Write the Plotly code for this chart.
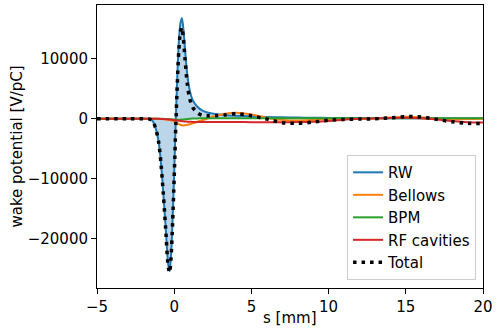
import plotly.graph_objects as go

s = [-5, -3, -2, -1.6, -1.4, -1.2, -1.0, -0.85, -0.7, -0.55, -0.4, -0.3, -0.2, -0.1,
     0.0, 0.1, 0.2, 0.3, 0.4, 0.5, 0.6, 0.7, 0.85, 1.0, 1.2, 1.5, 1.8, 2.2, 2.7, 3.3, 4,
     5, 6, 7, 8, 9, 10, 11, 12, 13, 14, 15, 16, 17, 18, 19, 20]

rw = [0, 0, 0, -50, -350, -1600, -4000, -7600, -12600, -18200, -24000, -25400, -22500, -16500,
      -9000, -400, 7000, 12800, 15900, 16800, 14800, 11600, 7300, 4800, 3100, 2000, 1400, 1000, 800, 650, 520,
      400, 300, 240, 200, 170, 150, 130, 120, 110, 100, 95, 90, 85, 80, 75, 70]

bellows = [0, 0, 0, 0, 0, 0, -10, -30, -60, -100, -150, -200, -260, -340,
           -450, -600, -750, -880, -1000, -1070, -1100, -1080, -1000, -900, -750, -500, -250, 100, 500, 850, 1000,
           700, 150, -200, -300, -200, -50, 0, 0, 50, 200, 350, 250, 50, -50, -50, 0]

bpm = [0, 0, 0, 0, 0, 0, 0, 0, -10, -20, -40, -60, -80, -100,
       -120, -140, -150, -150, -140, -120, -100, -80, -40, 0, 30, 60, 80, 90, 100, 100, 100,
       100, 100, 90, 90, 90, 80, 80, 80, 80, 80, 80, 80, 80, 80, 80, 80]

rf = [0, 0, 0, 0, 0, 0, -10, -20, -40, -60, -90, -110, -140, -170,
      -200, -240, -280, -320, -360, -400, -430, -450, -480, -500, -520, -540, -550, -550, -550, -550, -550,
      -560, -560, -560, -550, -480, -350, -150, 0, 60, 130, 170, 80, -120, -380, -560, -620]

total = [0, 0, 0, -50, -350, -1600, -4000, -7650, -12700, -18400, -24300, -25600, -23000, -17100,
         -9800, -1400, 5800, 11400, 14400, 15200, 13200, 10000, 5800, 3400, 1900, 1000, 600, 500, 500, 650, 850,
         500, -50, -650, -750, -550, -250, -100, -30, 0, 150, 370, 300, -100, -500, -750, -780]

x_ticks = [-5, 0, 5, 10, 15, 20]
x_ticktext = ["\u22125", "0", "5", "10", "15", "20"]
y_ticks = [10000, 0, -10000, -20000]
y_ticktext = ["10000", "0", "\u221210000", "\u221220000"]

FONT = "DejaVu Sans"

fig = go.Figure()
fig.add_trace(go.Scatter(x=s, y=rw, mode="lines", fill="tozeroy",
                         fillcolor="rgba(31,119,180,0.3)",
                         line=dict(width=0, shape="spline", smoothing=0.8),
                         showlegend=False, hoverinfo="skip"))
fig.add_trace(go.Scatter(x=s, y=rw, mode="lines", name="RW",
                         line=dict(color="#1f77b4", width=2, shape="spline", smoothing=0.8)))
fig.add_trace(go.Scatter(x=s, y=bellows, mode="lines", name="Bellows",
                         line=dict(color="#ff7f0e", width=2, shape="spline", smoothing=0.8)))
fig.add_trace(go.Scatter(x=s, y=bpm, mode="lines", name="BPM",
                         line=dict(color="#2ca02c", width=2, shape="spline", smoothing=0.8)))
fig.add_trace(go.Scatter(x=s, y=rf, mode="lines", name="RF cavities",
                         line=dict(color="#d62728", width=2, shape="spline", smoothing=0.8)))
fig.add_trace(go.Scatter(x=s, y=total, mode="lines", name="Total",
                         line=dict(color="black", width=3.5, dash="3.5px,5px",
                                   shape="spline", smoothing=0.8)))

axis_common = dict(showline=True, mirror=True, linecolor="black", linewidth=1,
                   ticks="outside", ticklen=5, tickwidth=1, tickcolor="black",
                   showgrid=False, zeroline=False, ticklabeloverflow="allow",
                   tickfont=dict(family=FONT, size=15, color="black"))

fig.update_layout(
    width=497, height=335,
    margin=dict(l=97, r=8, t=4, b=47),
    paper_bgcolor="white", plot_bgcolor="white",
    font=dict(family=FONT, size=15, color="black"),
    xaxis=dict(range=[-5, 20], tickvals=x_ticks, ticktext=x_ticktext, **axis_common),
    yaxis=dict(range=[-28180, 18950], tickvals=y_ticks, ticktext=y_ticktext,
               title=dict(text="wake potential [V/pC]", font=dict(family=FONT, size=15), standoff=1),
               **axis_common),
    legend=dict(x=0.982, y=0.028, xanchor="right", yanchor="bottom",
                bgcolor="rgba(255,255,255,0.8)", bordercolor="#cccccc", borderwidth=1,
                font=dict(family=FONT, size=15, color="black"),
                tracegroupgap=0, itemwidth=30),
    annotations=[dict(text="s [mm]", xref="paper", yref="paper", x=0.5, y=-0.106,
                      xanchor="center", yanchor="middle", showarrow=False,
                      font=dict(family=FONT, size=15, color="black"))],
)

fig.write_html("out.html", config={"displayModeBar": False},
               post_script="document.body.style.margin='0';document.body.style.overflow='hidden';")
